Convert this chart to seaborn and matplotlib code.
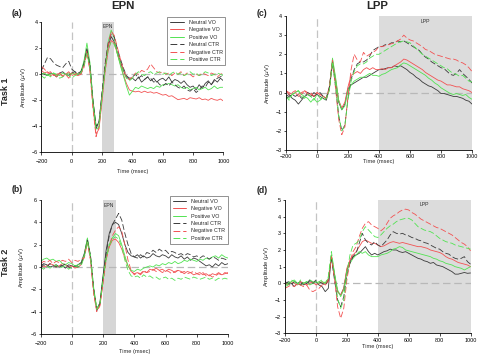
import numpy as np
import pandas as pd
import matplotlib
matplotlib.use("Agg")
import matplotlib.pyplot as plt
from matplotlib.lines import Line2D
import seaborn as sns

# time axis (ms) shared by all panels
times = list(range(-200, 1001, 20))
conditions = ["Neutral VO", "Negative VO", "Positive VO",
              "Neutral CTR", "Negative CTR", "Positive CTR"]

# ---- (a) Task 1, EPN ----
a_neutral_vo = [0.1, 0.0, -0.1, 0.1, 0.0, -0.2, 0.1, 0.2, 0.0, -0.1, 0.1, 0.2, 0.0, 0.1,
                0.9, 2.0, 0.6, -2.2, -4.2, -3.6, -1.5, 0.5, 2.2, 2.9, 2.5, 1.7, 1.0, 0.3, -0.2, -0.4,
                -0.3, -0.5, -0.2, -0.6, -0.4, -0.2, -0.5, -0.3, -0.6, -0.4, -0.3, -0.5, -0.2, -0.6, -0.4, -0.5,
                -0.7, -0.5, -0.8, -1.0, -0.9, -1.2, -0.8, -1.1, -0.7, -0.5, -0.8, -0.4, -0.6, -0.3, -0.5]
a_negative_vo = [0.3, 0.1, 0.2, -0.1, 0.0, -0.2, 0.1, -0.1, 0.0, -0.3, 0.1, 0.0, -0.1, 0.0,
                 0.7, 1.8, 0.4, -2.5, -4.6, -4.2, -2.0, 0.2, 1.8, 2.6, 2.4, 1.6, 0.8, 0.0, -0.7, -1.2,
                 -1.3, -1.35, -1.3, -1.4, -1.3, -1.4, -1.35, -1.45, -1.4, -1.5, -1.6, -1.55, -1.7, -1.65, -1.8, -1.95,
                 -1.9, -1.85, -1.95, -1.8, -1.85, -1.9, -1.8, -1.95, -1.9, -2.0, -1.85, -1.95, -2.0, -1.9, -2.05]
a_positive_vo = [0.0, 0.1, -0.1, 0.0, 0.1, 0.0, -0.1, 0.1, 0.0, 0.1, 0.0, 0.1, 0.0, 0.2,
                 1.0, 2.4, 0.9, -2.0, -3.9, -3.8, -1.6, 0.6, 2.5, 3.4, 2.8, 1.6, 0.7, -0.1, -0.9, -1.6,
                 -1.3, -1.0, -1.1, -0.9, -1.0, -1.1, -1.0, -1.1, -0.9, -1.0, -0.8, -0.8, -0.7, -0.8, -0.9, -0.8,
                 -1.0, -1.1, -1.0, -1.2, -1.1, -1.0, -1.2, -1.1, -1.0, -1.2, -1.1, -0.9, -1.1, -1.0, -1.0]
a_neutral_ctr = [0.3, 0.8, 1.3, 1.2, 0.9, 0.7, 0.6, 0.5, 0.8, 1.0, 0.4, 0.2, 0.1, 0.2,
                 0.8, 1.9, 0.7, -2.0, -4.0, -3.7, -1.3, 0.8, 2.4, 3.1, 2.9, 2.0, 1.2, 0.5, -0.1, -0.3,
                 -0.2, 0.0, -0.3, -0.1, -0.4, -0.2, -0.3, -0.6, -0.5, -0.8, -0.9, -0.7, -0.9, -0.6, -0.8, -1.0,
                 -1.1, -0.9, -1.2, -1.3, -1.1, -1.4, -1.2, -0.9, -1.0, -0.6, -0.8, -0.5, -0.3, -0.2, 0.0]
a_negative_ctr = [0.6, 0.4, 0.1, 0.2, -0.1, 0.0, 0.1, -0.2, 0.0, 0.2, -0.1, 0.0, 0.1, 0.0,
                  0.5, 1.7, 0.2, -2.6, -4.8, -4.0, -1.8, 0.4, 2.2, 3.3, 3.0, 2.1, 1.2, 0.4, -0.2, -0.4,
                  -0.2, 0.1, 0.0, 0.3, 0.2, 0.4, 0.8, 0.5, 0.2, 0.1, 0.2, 0.0, 0.1, -0.1, 0.1, 0.0,
                  0.2, -0.1, 0.1, 0.0, -0.2, 0.0, -0.1, 0.1, 0.0, -0.1, 0.1, 0.0, -0.2, 0.0, 0.1]
a_positive_ctr = [-0.1, -0.3, 0.0, -0.2, 0.1, -0.1, -0.3, -0.2, 0.0, -0.1, -0.3, -0.1, 0.0, 0.1,
                  0.6, 1.6, 0.5, -2.3, -4.3, -4.0, -1.7, 0.3, 1.9, 2.5, 2.3, 1.6, 0.9, 0.2, -0.3, -0.5,
                  -0.3, 0.0, 0.2, 0.0, -0.1, 0.1, 0.2, 0.0, 0.1, 0.2, 0.0, 0.1, -0.1, 0.1, 0.2, 0.0,
                  0.1, -0.1, 0.0, 0.2, 0.0, 0.1, -0.1, 0.0, 0.2, 0.1, -0.1, 0.0, 0.1, 0.0, -0.1]

# ---- (b) Task 2, EPN ----
b_neutral_vo = [0.1, 0.3, 0.2, 0.0, 0.1, 0.2, 0.0, 0.1, -0.1, 0.2, 0.1, 0.0, 0.2, 0.4,
                1.2, 2.5, 0.9, -2.0, -3.8, -3.2, -0.8, 1.5, 3.0, 3.8, 4.0, 3.8, 3.0, 2.0, 1.3, 1.0,
                0.9, 1.1, 0.8, 1.0, 0.8, 0.9, 1.2, 1.0, 0.9, 1.1, 1.0, 0.8, 1.1, 0.9, 0.8, 1.0,
                0.7, 0.9, 0.6, 0.8, 0.7, 0.5, 0.3, 0.1, 0.2, 0.0, 0.3, 0.1, 0.4, 0.2, 0.3]
b_negative_vo = [0.2, 0.0, 0.1, 0.3, 0.2, 0.0, 0.1, 0.3, 0.2, 0.0, 0.1, -0.1, 0.0, 0.2,
                 1.0, 2.3, 0.7, -2.2, -3.9, -3.4, -1.3, 0.8, 1.8, 2.4, 2.5, 2.2, 1.6, 0.8, 0.1, -0.4,
                 -0.6, -0.5, -0.7, -0.4, -0.5, -0.2, -0.3, -0.1, -0.3, -0.2, -0.4, -0.2, -0.3, -0.5, -0.3, -0.4,
                 -0.6, -0.4, -0.5, -0.7, -0.6, -0.5, -0.7, -0.6, -0.8, -0.6, -0.7, -0.5, -0.7, -0.6, -0.5]
b_positive_vo = [0.5, 0.7, 0.8, 0.6, 0.7, 0.5, 0.6, 0.3, 0.2, 0.4, 0.3, 0.1, 0.2, 0.3,
                 1.1, 2.6, 1.0, -1.8, -3.7, -3.3, -1.0, 0.9, 2.0, 2.6, 3.0, 2.8, 2.0, 1.0, 0.1, -0.3,
                 -0.4, -0.2, -0.3, -0.1, 0.0, 0.1, 0.0, 0.2, 0.1, 0.3, 0.2, 0.4, 0.3, 0.5, 0.3, 0.4,
                 0.6, 0.5, 0.7, 0.6, 0.5, 0.7, 0.6, 0.8, 0.7, 0.9, 1.0, 0.8, 1.1, 0.9, 0.8]
b_neutral_ctr = [-0.1, 0.2, 0.0, 0.3, 0.1, 0.0, 0.2, 0.1, 0.3, 0.0, -0.1, 0.1, 0.0, 0.3,
                 1.0, 2.4, 1.0, -1.9, -3.9, -3.3, -1.0, 1.2, 2.8, 3.8, 4.3, 4.8, 4.2, 3.0, 2.0, 1.2,
                 0.9, 0.8, 1.1, 0.9, 1.3, 1.2, 1.5, 1.3, 1.6, 1.4, 1.5, 1.2, 1.4, 1.3, 1.1, 1.2,
                 1.0, 1.2, 1.1, 0.9, 1.0, 0.8, 1.0, 0.9, 0.7, 0.9, 0.8, 0.6, 0.8, 0.7, 0.6]
b_negative_ctr = [0.3, 0.5, 0.4, 0.6, 0.3, 0.5, 0.4, 0.6, 0.5, 0.7, 0.4, 0.6, 0.5, 0.7,
                  0.8, 2.2, 0.6, -2.4, -4.0, -3.5, -1.5, 0.6, 1.9, 2.8, 3.3, 3.6, 3.2, 2.0, 0.6, -0.3,
                  -0.7, -0.5, -0.6, -0.3, -0.5, -0.4, -0.2, -0.4, -0.3, -0.5, -0.3, -0.4, -0.6, -0.4, -0.3, -0.5,
                  -0.4, -0.6, -0.5, -0.4, -0.6, -0.7, -0.5, -0.8, -0.7, -0.9, -0.8, -0.6, -0.7, -0.5, -0.6]
b_positive_ctr = [0.0, -0.2, 0.1, -0.1, 0.0, 0.2, -0.1, 0.0, 0.1, -0.2, 0.0, 0.1, 0.0, 0.1,
                  0.9, 2.3, 0.8, -2.0, -3.8, -3.3, -1.2, 0.7, 1.9, 2.5, 2.7, 2.5, 1.8, 0.6, -0.3, -0.8,
                  -0.9, -0.8, -1.0, -0.7, -0.9, -0.8, -1.0, -0.9, -1.1, -1.0, -0.9, -1.1, -1.0, -1.2, -1.0, -1.1,
                  -0.9, -1.0, -1.1, -0.9, -1.0, -1.1, -1.0, -0.9, -1.1, -1.0, -1.2, -1.0, -1.1, -1.0, -1.1]

# ---- (c) Task 1, LPP ----
c_neutral_vo = [-0.2, -0.1, -0.3, -0.4, -0.6, -0.4, -0.2, -0.1, -0.2, 0.0, -0.1, -0.2, -0.3, -0.4,
                0.2, 1.5, 0.6, -0.5, -0.9, -0.6, 0.2, 0.4, 0.5, 0.6, 0.7, 0.8, 0.8, 0.9, 1.0, 1.1,
                1.2, 1.2, 1.25, 1.3, 1.3, 1.4, 1.35, 1.4, 1.3, 1.2, 1.05, 0.95, 0.8, 0.7, 0.55, 0.45,
                0.35, 0.3, 0.2, 0.1, -0.05, -0.05, -0.1, -0.15, -0.2, -0.2, -0.25, -0.3, -0.4, -0.45, -0.6]
c_negative_vo = [0.1, 0.0, -0.1, 0.0, -0.2, -0.1, 0.1, 0.0, -0.1, -0.2, 0.0, -0.1, -0.2, -0.3,
                 0.3, 1.7, 0.7, -0.4, -0.8, -0.5, 0.3, 0.9, 1.0, 1.1, 1.0, 1.2, 1.3, 1.2, 1.3, 1.2,
                 1.2, 1.25, 1.2, 1.3, 1.3, 1.4, 1.5, 1.6, 1.75, 1.7, 1.6, 1.5, 1.4, 1.3, 1.2, 1.05,
                 0.95, 0.85, 0.75, 0.65, 0.6, 0.5, 0.4, 0.4, 0.35, 0.3, 0.3, 0.2, 0.15, 0.1, 0.0]
c_positive_vo = [-0.2, -0.3, -0.1, 0.0, 0.1, -0.1, -0.2, -0.3, -0.5, -0.3, -0.5, -0.4, -0.2, -0.3,
                 0.2, 1.8, 0.8, -0.4, -0.9, -0.7, 0.1, 0.4, 0.6, 0.7, 0.8, 0.8, 0.9, 1.0, 0.9, 0.9,
                 0.85, 0.95, 1.0, 1.1, 1.2, 1.25, 1.3, 1.45, 1.55, 1.5, 1.4, 1.3, 1.2, 1.1, 1.0, 0.9,
                 0.75, 0.65, 0.5, 0.4, 0.25, 0.15, 0.05, -0.05, -0.1, -0.05, -0.1, -0.15, -0.1, -0.25, -0.35]
c_neutral_ctr = [-0.3, -0.2, -0.1, -0.2, -0.1, -0.3, -0.2, 0.0, -0.1, -0.2, -0.1, 0.0, -0.2, -0.3,
                 0.3, 1.6, 0.3, -1.2, -2.0, -1.7, -0.3, 0.7, 1.2, 1.5, 1.6, 1.6, 1.7, 1.9, 2.2, 2.3,
                 2.4, 2.4, 2.5, 2.5, 2.6, 2.6, 2.7, 2.65, 2.7, 2.6, 2.5, 2.4, 2.3, 2.2, 2.0, 1.85,
                 1.75, 1.6, 1.5, 1.4, 1.3, 1.25, 1.1, 0.95, 0.9, 1.0, 1.2, 1.0, 0.85, 0.7, 0.5]
c_negative_ctr = [0.1, -0.1, 0.0, 0.1, -0.1, 0.0, 0.1, -0.1, 0.0, -0.2, 0.0, -0.1, -0.2, -0.3,
                  0.2, 1.7, 0.2, -1.4, -2.2, -1.8, -0.2, 1.2, 2.0, 1.7, 1.6, 2.1, 1.9, 2.0, 2.1, 2.2,
                  2.4, 2.4, 2.45, 2.5, 2.55, 2.6, 2.7, 2.8, 3.0, 2.85, 2.75, 2.7, 2.6, 2.5, 2.4, 2.25,
                  2.2, 2.1, 2.0, 1.95, 1.9, 1.85, 1.8, 1.75, 1.75, 1.7, 1.6, 1.55, 1.45, 1.3, 1.1]
c_positive_ctr = [-0.2, -0.4, -0.1, 0.0, 0.1, -0.2, -0.3, -0.1, -0.2, -0.4, -0.1, -0.3, -0.4, -0.3,
                  0.1, 1.6, 0.4, -1.2, -2.0, -1.7, -0.4, 0.6, 1.1, 1.4, 1.5, 1.5, 1.6, 1.8, 1.9, 2.0,
                  2.0, 2.1, 2.2, 2.3, 2.4, 2.5, 2.6, 2.65, 2.7, 2.65, 2.6, 2.45, 2.3, 2.15, 2.0, 1.9,
                  1.8, 1.7, 1.6, 1.5, 1.4, 1.3, 1.25, 1.1, 1.0, 0.95, 0.85, 0.9, 0.75, 0.6, 0.55]

# ---- (d) Task 2, LPP ----
d_neutral_vo = [-0.1, 0.1, 0.0, -0.2, 0.0, 0.1, -0.1, 0.0, 0.2, 0.0, 0.1, -0.1, -0.2, -0.5,
                -0.3, 1.6, 0.5, -0.5, -0.7, -0.3, 0.8, 1.3, 1.6, 1.7, 1.8, 2.0, 2.2, 1.9, 1.7, 1.8,
                1.7, 1.8, 1.9, 1.95, 2.05, 2.0, 2.0, 1.9, 1.85, 1.9, 1.8, 1.7, 1.6, 1.5, 1.45, 1.35,
                1.3, 1.2, 1.25, 1.1, 1.05, 1.0, 0.9, 0.8, 0.7, 0.55, 0.55, 0.6, 0.65, 0.6, 0.62]
d_negative_vo = [0.0, -0.1, 0.1, 0.0, -0.1, 0.1, 0.0, -0.1, 0.0, 0.1, -0.1, 0.0, 0.1, -0.1,
                 0.1, 1.7, 0.4, -0.5, -0.7, -0.3, 0.9, 1.4, 1.7, 1.9, 2.2, 2.5, 2.6, 2.5, 2.4, 2.4,
                 2.3, 2.2, 2.25, 2.35, 2.45, 2.5, 2.45, 2.4, 2.45, 2.4, 2.35, 2.3, 2.25, 2.2, 2.2, 2.15,
                 2.1, 2.0, 1.95, 1.9, 1.85, 1.75, 1.6, 1.5, 1.45, 1.35, 1.25, 1.2, 1.15, 1.1, 1.0]
d_positive_vo = [-0.2, -0.1, 0.1, 0.2, 0.0, -0.1, 0.0, 0.1, -0.1, 0.0, 0.1, 0.0, 0.1, 0.0,
                 0.3, 1.7, 0.6, -0.4, -0.8, -0.4, 0.7, 1.2, 1.5, 1.7, 1.9, 1.8, 1.9, 1.7, 1.6, 1.6,
                 1.6, 1.7, 1.75, 1.8, 1.9, 2.05, 2.1, 2.2, 2.15, 2.0, 1.95, 1.9, 1.85, 1.8, 1.75, 1.7,
                 1.65, 1.6, 1.5, 1.45, 1.35, 1.3, 1.2, 1.15, 1.1, 1.0, 0.95, 0.9, 0.8, 0.9, 1.0]
d_neutral_ctr = [0.1, 0.0, -0.1, 0.1, 0.0, -0.1, 0.1, 0.0, 0.1, 0.0, 0.2, 0.1, 0.0, -0.1,
                 0.2, 1.5, 0.2, -1.0, -1.4, -0.8, 0.5, 1.2, 1.6, 1.8, 2.4, 3.0, 2.6, 2.4, 2.3, 2.5,
                 2.3, 2.2, 2.4, 2.6, 2.9, 3.1, 3.0, 2.95, 3.0, 2.9, 2.85, 2.75, 2.7, 2.6, 2.55, 2.45,
                 2.4, 2.3, 2.2, 2.1, 2.05, 1.9, 1.8, 1.75, 1.6, 1.5, 1.45, 1.5, 1.6, 1.3, 1.15]
d_negative_ctr = [-0.3, -0.2, -0.1, -0.2, 0.0, -0.1, -0.2, -0.1, -0.4, -0.5, -0.4, -0.3, -0.1, 0.0,
                  0.2, 1.6, 0.3, -1.4, -2.1, -1.5, 0.2, 1.3, 1.9, 2.2, 2.8, 3.3, 3.6, 3.7, 3.5, 3.4,
                  3.3, 3.15, 3.3, 3.6, 3.9, 4.05, 4.15, 4.3, 4.4, 4.45, 4.4, 4.25, 4.15, 4.0, 3.85, 3.75,
                  3.65, 3.55, 3.45, 3.35, 3.3, 3.2, 3.1, 3.0, 2.9, 2.75, 2.6, 2.45, 2.35, 2.2, 1.95]
d_positive_ctr = [-0.1, 0.0, 0.2, 0.1, -0.1, 0.2, 0.0, 0.1, 0.2, 0.1, 0.0, 0.1, 0.2, 0.0,
                  0.4, 1.9, 0.6, -0.9, -1.5, -1.0, 0.6, 1.7, 2.3, 2.4, 2.6, 3.1, 3.4, 3.2, 3.0, 2.8,
                  2.75, 2.9, 3.1, 3.3, 3.45, 3.55, 3.7, 3.8, 3.85, 3.9, 3.9, 3.8, 3.6, 3.4, 3.3, 3.2,
                  3.15, 3.1, 3.0, 2.85, 2.7, 2.6, 2.5, 2.45, 2.4, 2.3, 2.25, 2.2, 2.15, 2.1, 2.05]

panel_data = {
    "a": [a_neutral_vo, a_negative_vo, a_positive_vo, a_neutral_ctr, a_negative_ctr, a_positive_ctr],
    "b": [b_neutral_vo, b_negative_vo, b_positive_vo, b_neutral_ctr, b_negative_ctr, b_positive_ctr],
    "c": [c_neutral_vo, c_negative_vo, c_positive_vo, c_neutral_ctr, c_negative_ctr, c_positive_ctr],
    "d": [d_neutral_vo, d_negative_vo, d_positive_vo, d_neutral_ctr, d_negative_ctr, d_positive_ctr],
}

BLACK = "#3a3a3a"
RED = "#f25252"
GREEN = "#52e352"
palette = {"Neutral VO": BLACK, "Negative VO": RED, "Positive VO": GREEN,
           "Neutral CTR": BLACK, "Negative CTR": RED, "Positive CTR": GREEN}
DASH = (7, 3)
dashes = {"Neutral VO": "", "Negative VO": "", "Positive VO": "",
          "Neutral CTR": DASH, "Negative CTR": DASH, "Positive CTR": DASH}

sns.set_style("ticks")
plt.rcParams["font.family"] = ["Liberation Sans", "DejaVu Sans"]
plt.rcParams["mathtext.fontset"] = "dejavusans"

fig = plt.figure(figsize=(4.8, 3.57), dpi=100)

# axes rects, limits, shaded window, etc.
cfg = {
    "a": dict(rect=[0.0863, 0.5734, 0.3792, 0.3641], ylim=(-6, 4), ystep=2,
              shade=(200, 280), shade_color="#d6d6d6", tag="EPN", tag_xy=(240, 3.7),
              legend=(1.01, 1.04), xpad=3.3, xlab=-0.125),
    "b": dict(rect=[0.0844, 0.0644, 0.3906, 0.3754], ylim=(-6, 6), ystep=2,
              shade=(200, 280), shade_color="#d6d6d6", tag="EPN", tag_xy=(240, 5.55),
              legend=(1.0, 1.03), xpad=3.0, xlab=-0.115),
    "c": dict(rect=[0.5958, 0.5798, 0.3875, 0.3754], ylim=(-3, 4), ystep=1,
              shade=(400, 1000), shade_color="#dcdcdc", tag="LPP", tag_xy=(700, 3.72),
              legend=None, xpad=1.2, xlab=-0.065),
    "d": dict(rect=[0.5938, 0.0664, 0.3865, 0.3734], ylim=(-3, 5), ystep=1,
              shade=(400, 1000), shade_color="#dcdcdc", tag="LPP", tag_xy=(700, 4.7),
              legend=None, xpad=1.6, xlab=-0.08),
}

for key, c in cfg.items():
    ax = fig.add_axes(c["rect"])
    rows = []
    for cond, vals in zip(conditions, panel_data[key]):
        rows.append(pd.DataFrame({"Time": times, "Amplitude": vals, "Condition": cond}))
    df = pd.concat(rows, ignore_index=True)

    ax.axvspan(*c["shade"], color=c["shade_color"], lw=0, zorder=0)
    ax.axhline(0, color="#b8b8b8", lw=0.9, ls=(0, (6, 3)), zorder=1)
    ax.axvline(0, color="#c4c4c4", lw=0.9, ls=(0, (6, 3)), zorder=1)

    sns.lineplot(data=df, x="Time", y="Amplitude", hue="Condition", style="Condition",
                 hue_order=conditions, style_order=conditions, palette=palette,
                 dashes=dashes, linewidth=0.6, estimator=None, legend=False, ax=ax)

    ax.text(*c["tag_xy"], c["tag"], ha="center", va="center", fontsize=3.7, color="#333333")

    ax.set_xlim(-200, 1000)
    ax.set_ylim(*c["ylim"])
    ax.set_xticks(range(-200, 1001, 200))
    ax.set_yticks(np.arange(c["ylim"][0], c["ylim"][1] + 0.1, c["ystep"]))
    ax.tick_params(axis="both", labelsize=3.9, length=1.8, width=0.5, colors="black")
    ax.tick_params(axis="x", pad=c["xpad"])
    ax.tick_params(axis="y", pad=1.0)
    for side in ["top", "right"]:
        ax.spines[side].set_visible(False)
    for side in ["left", "bottom"]:
        ax.spines[side].set_linewidth(0.6)
        ax.spines[side].set_color("black")

    ax.set_xlabel("Time (msec)", fontsize=4.1)
    ax.set_ylabel(r"Amplitude ($\mu$V)", fontsize=4.2)
    ax.xaxis.set_label_coords(0.5, c["xlab"])
    ax.yaxis.set_label_coords(-0.076, 0.5)

    if c["legend"] is not None:
        handles = [Line2D([], [], color=palette[k], lw=0.7,
                          ls="-" if dashes[k] == "" else (0, DASH)) for k in conditions]
        leg = ax.legend(handles, conditions, loc="upper right", bbox_to_anchor=c["legend"],
                        borderaxespad=0, fontsize=3.9, frameon=True, fancybox=False,
                        framealpha=1, edgecolor="#808080", handlelength=2.5,
                        handletextpad=0.9, labelspacing=0.45, borderpad=0.5)
        leg.get_frame().set_linewidth(0.6)

# titles and panel tags
fig.text(122.5 / 480, 1 - 6 / 357, "EPN", ha="center", va="center", fontsize=8.2, fontweight="bold")
fig.text(377.5 / 480, 1 - 6 / 357, "LPP", ha="center", va="center", fontsize=8.2, fontweight="bold")
fig.text(17 / 480, 1 - 13 / 357, "(a)", ha="center", va="center", fontsize=6.3, fontweight="bold")
fig.text(262 / 480, 1 - 13 / 357, "(c)", ha="center", va="center", fontsize=6.3, fontweight="bold")
fig.text(17 / 480, 1 - 190 / 357, "(b)", ha="center", va="center", fontsize=6.3, fontweight="bold")
fig.text(262 / 480, 1 - 190.5 / 357, "(d)", ha="center", va="center", fontsize=6.3, fontweight="bold")
fig.text(6 / 480, 1 - 91 / 357, "Task 1", ha="center", va="center", rotation=90,
         fontsize=6.5, fontweight="bold")
fig.text(6 / 480, 1 - 262.5 / 357, "Task 2", ha="center", va="center", rotation=90,
         fontsize=6.5, fontweight="bold")

fig.savefig("out.png", dpi=100)
